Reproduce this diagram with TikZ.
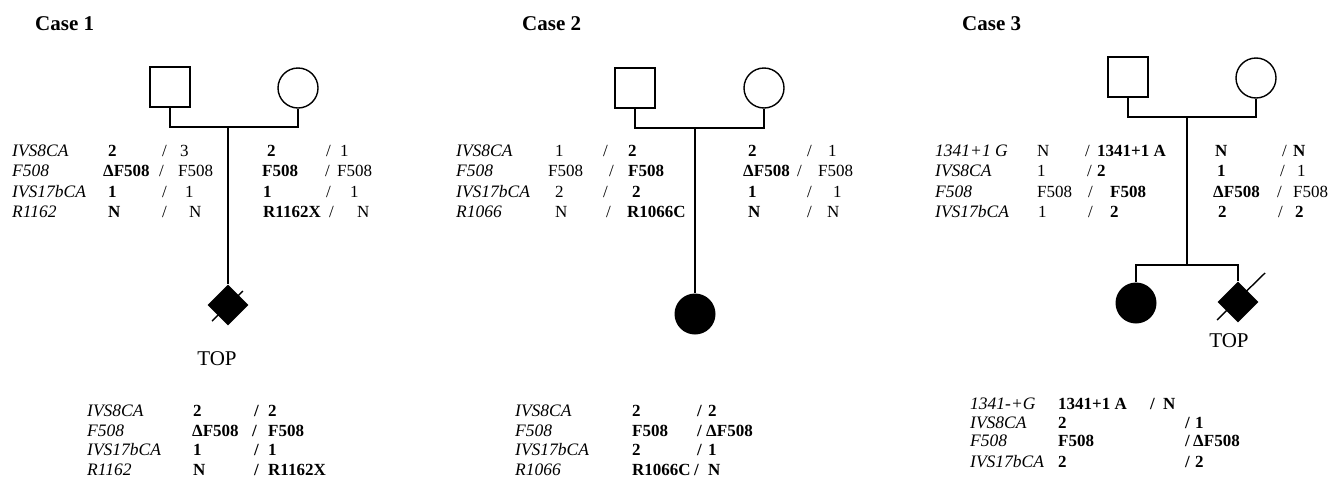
\documentclass[tikz,border=0pt]{standalone}
\usepackage{fontspec}
\setmainfont{Liberation Serif}
\usetikzlibrary{shapes.geometric}
\newcommand\C[5]{\node[#4] (#1) at (#2,#3) {#5};}
\tikzset{
  cell/.style={anchor=base west, inner sep=0pt, font=\fontsize{17}{20}\selectfont},
  lab/.style={cell, font=\fontsize{17.5}{20}\selectfont\itshape},
  rg/.style={cell},
  bd/.style={cell, font=\fontsize{17}{20}\selectfont\bfseries},
  sl/.style={cell},
  ttl/.style={anchor=base west, inner sep=0pt, font=\fontsize{21}{24}\selectfont\bfseries},
  topl/.style={anchor=base, inner sep=0pt, font=\fontsize{21}{24}\selectfont},
  ln/.style={line width=1.4pt},
  sq/.style={draw, line width=1.4pt, rectangle, minimum size=40pt, inner sep=0pt},
  ci/.style={draw, line width=1.4pt, circle, minimum size=40pt, inner sep=0pt},
  cif/.style={fill=black, circle, minimum size=41pt, inner sep=0pt},
  dia/.style={fill=black, diamond, minimum width=41pt, minimum height=41pt, inner sep=0pt},
}
\begin{document}
\begin{tikzpicture}[x=1pt,y=-1pt]
\useasboundingbox (0,0) rectangle (1340,480);
% ---------------- Case 1 ----------------
\C{t1}{35}{30}{ttl}{Case 1}
\node[sq] (f1) at (170,87) {};
\node[ci] (m1) at (298,88) {};
\coordinate (j1) at (228,127);
\draw[ln] (f1.south) |- (j1) -| (m1.south);
\node[dia] (k1) at (228,305) {};
\draw[ln] (j1) -- (k1.north);
\draw[ln] (212,321) -- (243,291);
\C{top1}{217}{365}{topl}{TOP}
% top table
\C{c1l1}{12}{156}{lab}{IVS8CA}
\C{c1l2}{12}{176}{lab}{F508}
\C{c1l3}{12}{197}{lab}{IVS17bCA}
\C{c1l4}{12}{217}{lab}{R1162}
\C{c1a11}{108}{156}{bd}{2}      \C{c1s11}{162}{156}{sl}{/} \C{c1b11}{180}{156}{rg}{3}
\C{c1a21}{103}{176}{bd}{ΔF508}  \C{c1s21}{159}{176}{sl}{/} \C{c1b21}{178}{176}{rg}{F508}
\C{c1a31}{108}{197}{bd}{1}      \C{c1s31}{162}{197}{sl}{/} \C{c1b31}{185}{197}{rg}{1}
\C{c1a41}{108}{217}{bd}{N}      \C{c1s41}{162}{217}{sl}{/} \C{c1b41}{189}{217}{rg}{N}
\C{c1a12}{267}{156}{bd}{2}      \C{c1s12}{326}{156}{sl}{/} \C{c1b12}{340}{156}{rg}{1}
\C{c1a22}{262}{176}{bd}{F508}   \C{c1s22}{325}{176}{sl}{/} \C{c1b22}{337}{176}{rg}{F508}
\C{c1a32}{263}{197}{bd}{1}      \C{c1s32}{326}{197}{sl}{/} \C{c1b32}{350}{197}{rg}{1}
\C{c1a42}{263}{217}{bd}{R1162X} \C{c1s42}{329}{217}{sl}{/} \C{c1b42}{357}{217}{rg}{N}
% bottom table
\C{c1m1}{87}{416}{lab}{IVS8CA}
\C{c1m2}{87}{436}{lab}{F508}
\C{c1m3}{87}{455}{lab}{IVS17bCA}
\C{c1m4}{87}{475}{lab}{R1162}
\C{c1p1}{193}{416}{bd}{2}     \C{c1q1}{254}{416}{bd}{/} \C{c1r1}{268}{416}{bd}{2}
\C{c1p2}{192}{436}{bd}{ΔF508} \C{c1q2}{252}{436}{bd}{/} \C{c1r2}{268}{436}{bd}{F508}
\C{c1p3}{193}{455}{bd}{1}     \C{c1q3}{254}{455}{bd}{/} \C{c1r3}{268}{455}{bd}{1}
\C{c1p4}{193}{475}{bd}{N}     \C{c1q4}{254}{475}{bd}{/} \C{c1r4}{268}{475}{bd}{R1162X}
% ---------------- Case 2 ----------------
\C{t2}{522}{30}{ttl}{Case 2}
\node[sq] (f2) at (635,88) {};
\node[ci] (m2) at (764,88) {};
\coordinate (j2) at (695,128);
\draw[ln] (f2.south) |- (j2) -| (m2.south);
\node[cif] (k2) at (695,314) {};
\draw[ln] (j2) -- (k2.north);
\C{c2l1}{456}{156}{lab}{IVS8CA}
\C{c2l2}{456}{176}{lab}{F508}
\C{c2l3}{456}{197}{lab}{IVS17bCA}
\C{c2l4}{456}{217}{lab}{R1066}
\C{c2a11}{555}{156}{rg}{1}     \C{c2s11}{603}{156}{sl}{/} \C{c2b11}{628}{156}{bd}{2}
\C{c2a21}{548}{176}{rg}{F508}  \C{c2s21}{609}{176}{sl}{/} \C{c2b21}{628}{176}{bd}{F508}
\C{c2a31}{555}{197}{rg}{2}     \C{c2s31}{603}{197}{sl}{/} \C{c2b31}{632}{197}{bd}{2}
\C{c2a41}{555}{217}{rg}{N}     \C{c2s41}{606}{217}{sl}{/} \C{c2b41}{627}{217}{bd}{R1066C}
\C{c2a12}{748}{156}{bd}{2}     \C{c2s12}{807}{156}{sl}{/} \C{c2b12}{828}{156}{rg}{1}
\C{c2a22}{743}{176}{bd}{ΔF508} \C{c2s22}{797}{176}{sl}{/} \C{c2b22}{818}{176}{rg}{F508}
\C{c2a32}{748}{197}{bd}{1}     \C{c2s32}{807}{197}{sl}{/} \C{c2b32}{833}{197}{rg}{1}
\C{c2a42}{748}{217}{bd}{N}     \C{c2s42}{807}{217}{sl}{/} \C{c2b42}{827}{217}{rg}{N}
\C{c2m1}{515}{416}{lab}{IVS8CA}
\C{c2m2}{515}{436}{lab}{F508}
\C{c2m3}{515}{455}{lab}{IVS17bCA}
\C{c2m4}{515}{475}{lab}{R1066}
\C{c2p1}{632}{416}{bd}{2}      \C{c2q1}{697}{416}{bd}{/} \C{c2r1}{708}{416}{bd}{2}
\C{c2p2}{632}{436}{bd}{F508}   \C{c2q2}{697}{436}{bd}{/} \C{c2r2}{706}{436}{bd}{ΔF508}
\C{c2p3}{632}{455}{bd}{2}      \C{c2q3}{697}{455}{bd}{/} \C{c2r3}{708}{455}{bd}{1}
\C{c2p4}{632}{475}{bd}{R1066C} \C{c2q4}{694}{475}{bd}{/} \C{c2r4}{708}{475}{bd}{N}
% ---------------- Case 3 ----------------
\C{t3}{962}{30}{ttl}{Case 3}
\node[sq] (f3) at (1128,77) {};
\node[ci] (m3) at (1256,78) {};
\coordinate (j3) at (1187,117);
\draw[ln] (f3.south) |- (j3) -| (m3.south);
\coordinate (s3) at (1187,265);
\draw[ln] (j3) -- (s3);
\node[cif] (k3a) at (1136,303) {};
\node[dia] (k3b) at (1238,302) {};
\draw[ln] (k3a.north) |- (s3) -| (k3b.north);
\draw[ln] (1217,320) -- (1265,273);
\C{top3}{1229}{347}{topl}{TOP}
\C{c3l1}{935}{156}{lab}{1341+1 G}
\C{c3l2}{935}{176}{lab}{IVS8CA}
\C{c3l3}{935}{197}{lab}{F508}
\C{c3l4}{935}{217}{lab}{IVS17bCA}
\C{c3a11}{1037}{156}{rg}{N}    \C{c3s11}{1085}{156}{sl}{/} \C{c3b11}{1097}{156}{bd}{1341+1 A}
\C{c3a21}{1037}{176}{rg}{1}    \C{c3s21}{1087}{176}{sl}{/} \C{c3b21}{1097}{176}{bd}{2}
\C{c3a31}{1037}{197}{rg}{F508} \C{c3s31}{1088}{197}{sl}{/} \C{c3b31}{1110}{197}{bd}{F508}
\C{c3a41}{1038}{217}{rg}{1}    \C{c3s41}{1088}{217}{sl}{/} \C{c3b41}{1110}{217}{bd}{2}
\C{c3a12}{1215}{156}{bd}{N}     \C{c3s12}{1282}{156}{sl}{/} \C{c3b12}{1293}{156}{bd}{N}
\C{c3a22}{1217}{176}{bd}{1}     \C{c3s22}{1280}{176}{sl}{/} \C{c3b22}{1297}{176}{rg}{1}
\C{c3a32}{1213}{197}{bd}{ΔF508} \C{c3s32}{1277}{197}{sl}{/} \C{c3b32}{1293}{197}{rg}{F508}
\C{c3a42}{1218}{217}{bd}{2}     \C{c3s42}{1278}{217}{sl}{/} \C{c3b42}{1295}{217}{bd}{2}
\C{c3m1}{970}{409}{lab}{1341-+G}
\C{c3m2}{970}{428}{lab}{IVS8CA}
\C{c3m3}{970}{446}{lab}{F508}
\C{c3m4}{970}{467}{lab}{IVS17bCA}
\C{c3p1}{1058}{409}{bd}{1341+1 A} \C{c3q1}{1150}{409}{bd}{/} \C{c3r1}{1163}{409}{bd}{N}
\C{c3p2}{1058}{428}{bd}{2}        \C{c3q2}{1185}{428}{bd}{/} \C{c3r2}{1195}{428}{bd}{1}
\C{c3p3}{1058}{446}{bd}{F508}     \C{c3q3}{1185}{446}{bd}{/} \C{c3r3}{1193}{446}{bd}{ΔF508}
\C{c3p4}{1058}{467}{bd}{2}        \C{c3q4}{1185}{467}{bd}{/} \C{c3r4}{1195}{467}{bd}{2}
\end{tikzpicture}
\end{document}
